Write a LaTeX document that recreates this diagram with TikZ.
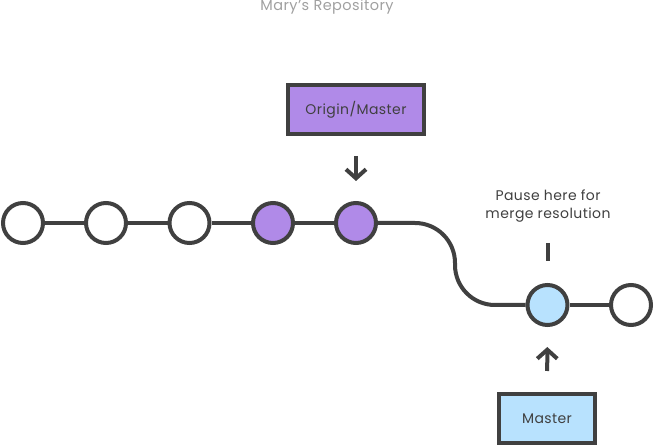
\documentclass[tikz,border=0pt]{standalone}
\usepackage{fontspec}
\setmainfont{Poppins}[LetterSpace=3]
\usetikzlibrary{positioning,arrows.meta}
\definecolor{inkgray}{RGB}{64,64,64}
\definecolor{titlegray}{RGB}{160,160,160}
\definecolor{commitpurple}{RGB}{176,138,232}
\definecolor{commitblue}{RGB}{184,226,254}
\begin{document}
\begin{tikzpicture}[
  x=1pt,y=-1pt,
  every node/.style={font=\fontsize{14}{18}\selectfont,text=inkgray},
  commit/.style={circle,draw=inkgray,line width=4pt,fill=white,minimum size=40pt,inner sep=0pt},
  refbox/.style={draw=inkgray,line width=4pt,minimum height=49pt,inner sep=0pt},
  link/.style={draw=inkgray,line width=4pt},
  arrow/.style={inkgray,line width=4pt,-{Straight Barb[length=9pt,width=20pt]}}
]
  \useasboundingbox (0,0) rectangle (654,446);
  \node[font=\fontsize{14.5}{16}\selectfont,text=titlegray] (title) at (327,7) {Mary’s Repository};
  % commits on the shared line
  \node[commit] (c1) at (23,223) {};
  \node[commit] (c2) at (106,223) {};
  \node[commit] (c3) at (189.5,223) {};
  \node[commit,fill=commitpurple] (c4) at (273,223) {};
  \node[commit,fill=commitpurple] (c5) at (356,223) {};
  % commits after the rebase
  \node[commit,fill=commitblue] (c6) at (547.5,305) {};
  \node[commit] (c7) at (631,305) {};
  \draw[link] (c1) -- (c2);
  \draw[link] (c2) -- (c3);
  \draw[link] (c3) -- (c4);
  \draw[link] (c4) -- (c5);
  \draw[link,rounded corners=40pt] (c5.east) -- (455,223) -- (455,305) -- (c6.west);
  \draw[link] (c6) -- (c7);
  % branch labels
  \node[refbox,fill=commitpurple,minimum width=136pt] (origin) at (356,109.5) {Origin/Master};
  \node[refbox,fill=commitblue,minimum width=96pt] (master) at (547,418.5) {Master};
  \node[align=center] (pause) at (548,206) {Pause here for\\merge resolution};
  \draw[arrow,shorten <=20pt,shorten >=20pt] (origin) -- (c5);
  \draw[arrow,shorten <=21pt,shorten >=20pt] (master) -- (c6);
  \draw[link,shorten <=17pt,shorten >=22pt] (pause.south -| c6) -- (c6);
\end{tikzpicture}
\end{document}
